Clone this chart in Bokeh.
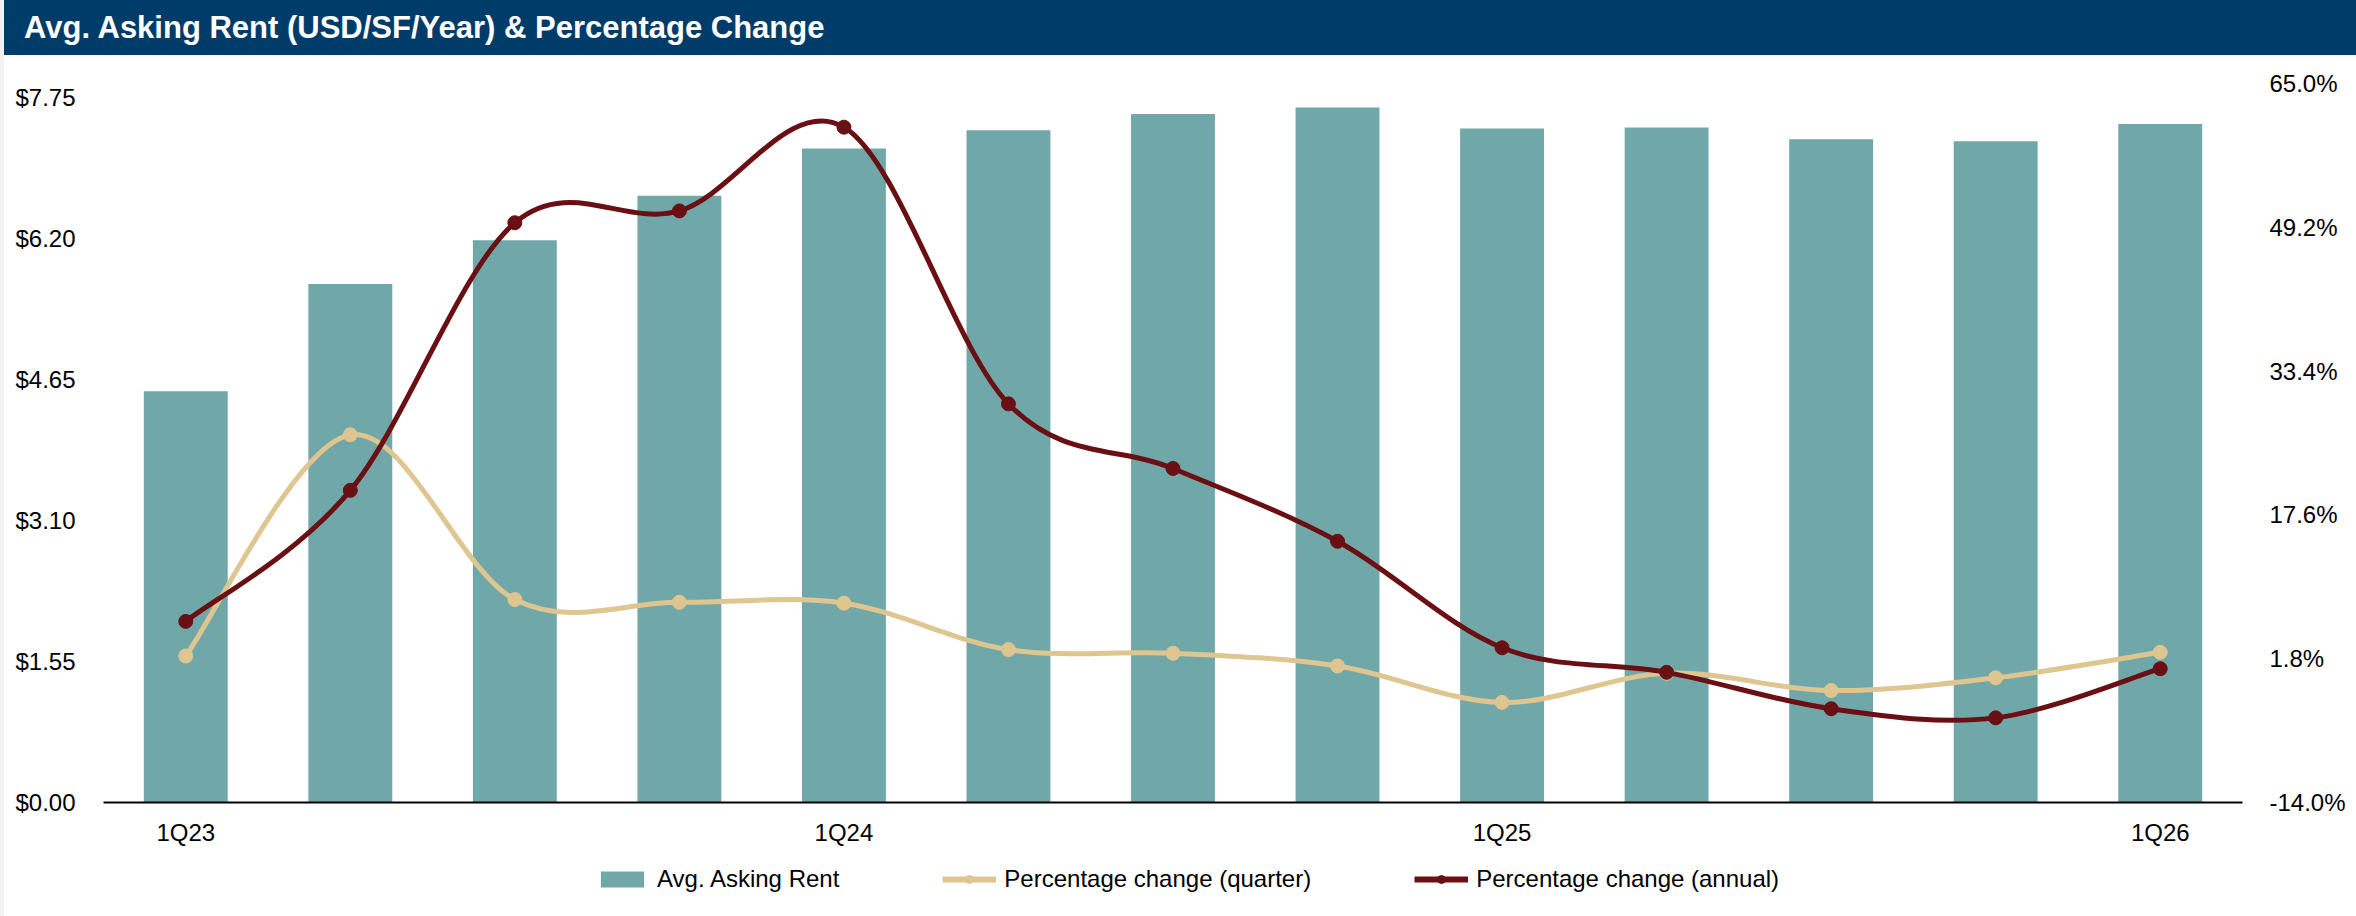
from bokeh.plotting import figure
from bokeh.models import (Range1d, LinearAxis, FixedTicker, NumeralTickFormatter,
                          PrintfTickFormatter, Legend, LegendItem, Div)
from bokeh.layouts import row, column
from bokeh.embed import file_html
from bokeh.resources import INLINE

# ---------------- data ----------------
quarters = ["1Q23", "2Q23", "3Q23", "4Q23", "1Q24", "2Q24", "3Q24", "4Q24",
            "1Q25", "2Q25", "3Q25", "4Q25", "1Q26"]
rent = [4.52, 5.70, 6.18, 6.67, 7.19, 7.39, 7.57, 7.64, 7.41, 7.42, 7.29, 7.27, 7.46]
pct_quarter = [2.1, 26.4, 8.3, 8.0, 7.9, 2.8, 2.4, 1.0, -3.0, 0.2, -1.7, -0.3, 2.5]
pct_annual = [5.9, 20.3, 49.7, 51.0, 60.2, 29.8, 22.7, 14.7, 3.0, 0.3, -3.7, -4.7, 0.7]
left_ticks = [0.0, 1.55, 3.10, 4.65, 6.20, 7.75]
right_ticks = [-14.0, 1.8, 17.6, 33.4, 49.2, 65.0]
label_idx = [0, 4, 8, 12]
title_text = "Avg. Asking Rent (USD/SF/Year) & Percentage Change"
series_names = ["Avg. Asking Rent", "Percentage change (quarter)", "Percentage change (annual)"]

TEAL = "#70a8a9"
TAN = "#dfc690"
DRED = "#6a1014"
NAVY = "#003c69"
FONT = "Liberation Sans"

x = list(range(len(quarters)))


def smooth_segments(xs, ys):
    """Cubic Bezier segments through the points (Catmull-Rom style smoothing)."""
    n = len(xs)
    out = dict(x0=[], y0=[], x1=[], y1=[], cx0=[], cy0=[], cx1=[], cy1=[])
    for i in range(n - 1):
        a = i - 1 if i > 0 else i
        d = i + 2 if i + 2 < n else i + 1
        out["x0"].append(xs[i]); out["y0"].append(ys[i])
        out["x1"].append(xs[i + 1]); out["y1"].append(ys[i + 1])
        out["cx0"].append(xs[i] + (xs[i + 1] - xs[a]) / 6.0)
        out["cy0"].append(ys[i] + (ys[i + 1] - ys[a]) / 6.0)
        out["cx1"].append(xs[i + 1] - (xs[d] - xs[i]) / 6.0)
        out["cy1"].append(ys[i + 1] - (ys[d] - ys[i]) / 6.0)
    return out


# ---------------- main figure ----------------
FW = 2352
p = figure(width=FW, height=797, title=None, output_backend="svg", toolbar_location=None,
           x_range=Range1d(-0.5, len(quarters) - 0.5), y_range=Range1d(0, 7.904),
           min_border_left=99, min_border_right=114, min_border_top=28, min_border_bottom=50)
p.outline_line_color = None
p.background_fill_color = "white"
p.border_fill_color = "white"
p.xgrid.visible = False
p.ygrid.visible = False
p.extra_y_ranges = {"pct": Range1d(-14.0, 65.0)}

p.vbar(x=x, top=rent, width=0.51, fill_color=TEAL, line_color=None)

qs = smooth_segments(x, pct_quarter)
p.bezier(line_color=TAN, line_width=5, line_cap="round", y_range_name="pct", **qs)
p.scatter(x, pct_quarter, size=14, fill_color=TAN, line_color=TAN, y_range_name="pct")

an = smooth_segments(x, pct_annual)
p.bezier(line_color=DRED, line_width=5, line_cap="round", y_range_name="pct", **an)
p.scatter(x, pct_annual, size=14, fill_color=DRED, line_color=DRED, y_range_name="pct")

# x axis
xa = p.xaxis[0]
xa.ticker = FixedTicker(ticks=label_idx)
xa.major_label_overrides = {i: quarters[i] for i in label_idx}
xa.axis_line_color = "black"
xa.axis_line_width = 2
xa.major_tick_line_color = None
xa.minor_tick_line_color = None
xa.major_label_standoff = 10
xa.major_label_text_font = FONT
xa.major_label_text_font_size = "24px"
xa.major_label_text_color = "#000000"

# left axis
ya = p.yaxis[0]
ya.ticker = FixedTicker(ticks=left_ticks)
ya.formatter = NumeralTickFormatter(format="$0.00")
ya.axis_line_color = None
ya.major_tick_line_color = None
ya.minor_tick_line_color = None
ya.major_label_standoff = 22
ya.major_label_text_font = FONT
ya.major_label_text_font_size = "24px"
ya.major_label_text_color = "#000000"

# right axis
ra = LinearAxis(y_range_name="pct", ticker=FixedTicker(ticks=right_ticks),
                formatter=PrintfTickFormatter(format="%.1f%%"))
ra.axis_line_color = None
ra.major_tick_line_color = None
ra.minor_tick_line_color = None
ra.major_label_standoff = 21
ra.major_label_text_font = FONT
ra.major_label_text_font_size = "24px"
ra.major_label_text_color = "#000000"
p.add_layout(ra, "right")

# ---------------- legend strip (separate figure; its renderers sit outside its view) ----------------
lg = figure(width=FW, height=64, title=None, output_backend="svg", toolbar_location=None,
            x_axis_type=None, y_axis_type=None, x_range=Range1d(100, 101), y_range=Range1d(100, 101),
            min_border=0)
lg.outline_line_color = None
lg.grid.visible = False
lg_bar = lg.vbar(x=x, top=rent, width=0.51, fill_color=TEAL, line_color=None)
lg_ql = lg.line(x=x, y=pct_quarter, line_color=TAN, line_width=6)
lg_qp = lg.scatter(x=x, y=pct_quarter, size=18, fill_color=TAN, line_color=TAN)
lg_al = lg.line(x=x, y=pct_annual, line_color=DRED, line_width=6)
lg_ap = lg.scatter(x=x, y=pct_annual, size=18, fill_color=DRED, line_color=DRED)

legend = Legend(items=[
    LegendItem(label=series_names[0], renderers=[lg_bar]),
    LegendItem(label=series_names[1], renderers=[lg_ql, lg_qp]),
    LegendItem(label=series_names[2], renderers=[lg_al, lg_ap]),
], location=(492, 23), orientation="horizontal", padding=0, margin=0, spacing=103,
    label_standoff=8, glyph_width=54, glyph_height=20, label_height=20,
    label_text_font=FONT, label_text_font_size="24px", label_text_color="#000000",
    border_line_color=None, background_fill_alpha=0)
lg.add_layout(legend)

title_div = Div(text=title_text, render_as_text=True, width=FW, height=55, margin=0,
                styles={"background-color": NAVY, "color": "white",
                        "font-family": "'Liberation Sans', Arial, sans-serif",
                        "font-weight": "bold", "font-size": "31px",
                        "line-height": "55px", "text-indent": "20px",
                        "white-space": "nowrap", "overflow": "hidden"})
strip = Div(text="", width=4, height=916, margin=0, styles={"background-color": "#f2f2f2"})

layout = row(strip, column(title_div, p, lg, spacing=0), spacing=0)

html = file_html(layout, INLINE)
html = html.replace("<head>", "<head><style>html, body { margin: 0; padding: 0; background: white; }</style>", 1)
open("out.html", "w").write(html)
